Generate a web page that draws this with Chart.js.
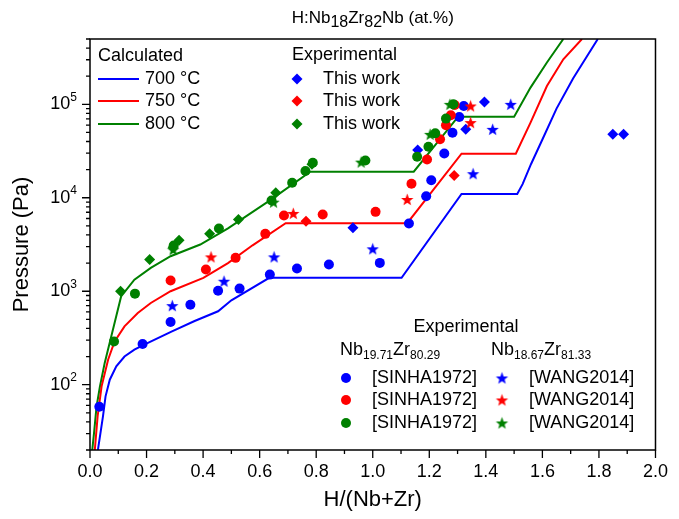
<!DOCTYPE html>
<html>
<head>
<meta charset="utf-8">
<script src="https://cdn.jsdelivr.net/npm/chart.js@4.4.1/dist/chart.umd.min.js"></script>
<style>
  html, body { margin: 0; padding: 0; background: #fff; }
  #wrap { width: 679px; height: 519px; }
</style>
</head>
<body>
<div id="wrap"><canvas id="chart" width="679" height="519"></canvas></div>
<script>
// ---- calculated isotherms, [H/(Nb+Zr), pressure Pa]
const calc700 = [[0.028, 20], [0.046, 46], [0.055, 75], [0.07, 113], [0.093, 157], [0.122, 200],
  [0.157, 237], [0.192, 268], [0.29, 372], [0.37, 480], [0.453, 610], [0.5, 800], [0.634, 1390],
  [1.102, 1390], [1.314, 11000], [1.511, 11000], [1.53, 14000], [1.56, 23000], [1.6, 42000],
  [1.65, 90000], [1.709, 190000], [1.75, 300000], [1.796, 500000]];
const calc750 = [[0.017, 20], [0.027, 46], [0.041, 96], [0.064, 185], [0.087, 291], [0.122, 421],
  [0.169, 585], [0.215, 748], [0.285, 1000], [0.401, 1390], [0.488, 2000], [0.575, 3100],
  [0.692, 5350], [1.122, 5350], [1.314, 29600], [1.506, 29600], [1.558, 63700], [1.616, 157000],
  [1.674, 303000], [1.74, 500000]];
const calc800 = [[0.008, 20], [0.015, 32], [0.023, 58], [0.035, 95], [0.052, 171], [0.081, 387],
  [0.11, 880], [0.157, 1330], [0.215, 1775], [0.285, 2370], [0.39, 3160], [0.488, 4700],
  [0.639, 9500], [0.779, 19000], [1.145, 19000], [1.302, 73800], [1.5, 73800], [1.558, 151000],
  [1.616, 280000], [1.674, 500000]];

// ---- experimental, this work (diamonds)
const work700 = [[0.93, 4770], [1.159, 32400], [1.329, 54000], [1.395, 106000], [1.849, 47700], [1.887, 47700]];
const work750 = [[0.764, 5620], [1.288, 17300]];
const work800 = [[0.108, 1000], [0.211, 2180], [0.294, 2950], [0.315, 3510], [0.423, 4120],
  [0.525, 5850], [0.657, 11300], [0.785, 22800]];

// ---- SINHA1972, Nb19.71Zr80.29 (circles)
const sinha700 = [[0.033, 58], [0.186, 272], [0.285, 469], [0.355, 718], [0.453, 1014], [0.529, 1067],
  [0.636, 1506], [0.732, 1750], [0.845, 1930], [1.025, 2010], [1.128, 5300], [1.189, 10400],
  [1.207, 15400], [1.253, 29800], [1.282, 49700], [1.306, 73100], [1.322, 96000]];
const sinha750 = [[0.285, 1300], [0.41, 1706], [0.515, 2275], [0.62, 4110], [0.686, 6460], [0.823, 6630],
  [1.01, 7070], [1.137, 14100], [1.192, 25700], [1.238, 42200], [1.259, 59600], [1.276, 76300], [1.29, 98400]];
const sinha800 = [[0.085, 290], [0.159, 942], [0.296, 3080], [0.456, 4690], [0.642, 9360], [0.715, 14500],
  [0.762, 19300], [0.788, 23700], [0.974, 25100], [1.157, 27500], [1.197, 35200], [1.221, 48900],
  [1.259, 70300], [1.285, 100000]];

// ---- WANG2014, Nb18.67Zr81.33 (stars)
const wang700 = [[0.291, 701], [0.474, 1280], [0.651, 2330], [1.0, 2840], [1.355, 18100], [1.424, 54000], [1.488, 100000]];
const wang750 = [[0.428, 2330], [0.719, 6800], [1.122, 9590], [1.346, 63700], [1.346, 96000]];
const wang800 = [[0.294, 2790], [0.649, 8980], [0.959, 24100], [1.203, 47700], [1.273, 100000]];

// ---- axes
const X_MIN = 0, X_MAX = 2;
const Y_MIN = 20, Y_MAX = 500000;
const yTickValues = [100, 1000, 10000, 100000];

const FONT = "'Liberation Sans', Arial, sans-serif";
const BLUE = '#0000ff', RED = '#ff0000', GREEN = '#008000';

function starImage(color, r) {
  const s = Math.ceil(r * 2) + 2;
  const c = document.createElement('canvas');
  c.width = s; c.height = s;
  const g = c.getContext('2d');
  g.fillStyle = color;
  g.beginPath();
  for (let i = 0; i < 10; i++) {
    const rad = i % 2 === 0 ? r : r * 0.42;
    const ang = -Math.PI / 2 + i * Math.PI / 5;
    g.lineTo(s / 2 + rad * Math.cos(ang), s / 2 + 0.6 + rad * Math.sin(ang));
  }
  g.closePath();
  g.fill();
  return c;
}
const stars = { b: starImage(BLUE, 6.5), r: starImage(RED, 6.5), g: starImage(GREEN, 6.5) };

function curve(data, color) {
  return { type: 'line', data, borderColor: color, borderWidth: 2, pointRadius: 0,
    fill: false, tension: 0, order: 50 };
}
function marks(data, color, style, radius, order) {
  return { type: 'scatter', data, pointStyle: style, pointRadius: radius,
    backgroundColor: color, borderColor: color, borderWidth: 0, order };
}

// draw a run of text pieces: [text, size, dy]
function richText(ctx, x, y, parts, align) {
  let w = 0;
  parts.forEach(p => { ctx.font = p[1] + 'px ' + FONT; w += ctx.measureText(p[0]).width; });
  let cx = align === 'center' ? x - w / 2 : align === 'right' ? x - w : x;
  ctx.textAlign = 'left';
  ctx.textBaseline = 'middle';
  parts.forEach(p => {
    ctx.font = p[1] + 'px ' + FONT;
    ctx.fillText(p[0], cx, y + (p[2] || 0));
    cx += ctx.measureText(p[0]).width;
  });
}

function diamond(ctx, x, y, r, color) {
  ctx.fillStyle = color;
  ctx.beginPath();
  ctx.moveTo(x, y - r); ctx.lineTo(x + r, y); ctx.lineTo(x, y + r); ctx.lineTo(x - r, y);
  ctx.closePath(); ctx.fill();
}

const decor = {
  id: 'decor',
  afterDraw(chart) {
    const { ctx, chartArea: a, scales: { x, y } } = chart;
    ctx.save();
    // frame
    ctx.strokeStyle = '#000';
    ctx.lineWidth = 1.5;
    ctx.strokeRect(a.left, a.top, a.right - a.left, a.bottom - a.top);
    // tick marks
    ctx.lineWidth = 1.3;
    ctx.beginPath();
    for (let i = 0; i <= 20; i++) {
      const px = x.getPixelForValue(i / 10);
      ctx.moveTo(px, a.bottom); ctx.lineTo(px, a.bottom + (i % 2 ? 4 : 8));
    }
    for (let e = 1; e <= 5; e++) {
      for (let m = 1; m <= 9; m++) {
        const v = m * Math.pow(10, e);
        if (v < Y_MIN || v > Y_MAX) continue;
        const py = y.getPixelForValue(v);
        ctx.moveTo(a.left, py); ctx.lineTo(a.left - (m === 1 ? 8 : 4), py);
      }
    }
    ctx.stroke();

    ctx.fillStyle = '#000';
    // y tick labels 10^n
    yTickValues.forEach(v => {
      const py = y.getPixelForValue(v);
      const exp = String(Math.round(Math.log10(v)));
      richText(ctx, a.left - 13, py, [['10', 18, 0], [exp, 12, -7]], 'right');
    });

    // y title
    ctx.save();
    ctx.translate(22, (a.top + a.bottom) / 2);
    ctx.rotate(-Math.PI / 2);
    ctx.fillStyle = '#000';
    richText(ctx, 0, 0, [['Pressure (Pa)', 22, 0]], 'center');
    ctx.restore();

    // title
    ctx.fillStyle = '#000';
    richText(ctx, (a.left + a.right) / 2, 18,
      [['H:Nb', 17, 0], ['18', 16, 5], ['Zr', 17, 0], ['82', 16, 5], ['Nb (at.%)', 17, 0]], 'center');

    // legend: calculated
    const rows = [79, 101, 124];
    const cols = [BLUE, RED, GREEN];
    const temps = ['700 °C', '750 °C', '800 °C'];
    ctx.fillStyle = '#000';
    richText(ctx, 98, 56, [['Calculated', 18, 0]], 'left');
    rows.forEach((ry, i) => {
      ctx.strokeStyle = cols[i]; ctx.lineWidth = 2;
      ctx.beginPath(); ctx.moveTo(98, ry); ctx.lineTo(139, ry); ctx.stroke();
      ctx.fillStyle = '#000';
      richText(ctx, 145, ry, [[temps[i], 18, 0]], 'left');
    });
    // legend: this work
    richText(ctx, 292, 55, [['Experimental', 18, 0]], 'left');
    rows.forEach((ry, i) => {
      diamond(ctx, 297, ry, 5.5, cols[i]);
      ctx.fillStyle = '#000';
      richText(ctx, 323, ry, [['This work', 18, 0]], 'left');
    });

    // legend: literature
    ctx.fillStyle = '#000';
    richText(ctx, 466, 327, [['Experimental', 18, 0]], 'center');
    richText(ctx, 340, 350, [['Nb', 18, 0], ['19.71', 12, 6], ['Zr', 18, 0], ['80.29', 12, 6]], 'left');
    richText(ctx, 491, 350, [['Nb', 18, 0], ['18.67', 12, 6], ['Zr', 18, 0], ['81.33', 12, 6]], 'left');
    const rows2 = [378, 400, 423];
    const starList = [stars.b, stars.r, stars.g];
    rows2.forEach((ry, i) => {
      ctx.fillStyle = cols[i];
      ctx.beginPath(); ctx.arc(346, ry, 5, 0, Math.PI * 2); ctx.fill();
      const st = starList[i];
      ctx.drawImage(st, 502 - st.width / 2, ry - st.height / 2);
      ctx.fillStyle = '#000';
      richText(ctx, 372, ry, [['[SINHA1972]', 18, 0]], 'left');
      richText(ctx, 529, ry, [['[WANG2014]', 18, 0]], 'left');
    });
    ctx.restore();
  }
};

new Chart(document.getElementById('chart'), {
  data: {
    datasets: [
      curve(calc700, BLUE), curve(calc750, RED), curve(calc800, GREEN),
      marks(work700, BLUE, 'rectRot', 5.5, 33), marks(work750, RED, 'rectRot', 5.5, 32), marks(work800, GREEN, 'rectRot', 5.5, 31),
      marks(sinha700, BLUE, 'circle', 5, 23), marks(sinha750, RED, 'circle', 5, 22), marks(sinha800, GREEN, 'circle', 5, 21),
      marks(wang700, BLUE, stars.b, 6, 13), marks(wang750, RED, stars.r, 6, 12), marks(wang800, GREEN, stars.g, 6, 11)
    ]
  },
  options: {
    responsive: false,
    animation: false,
    devicePixelRatio: 1,
    layout: { padding: { left: 0, top: 39, right: 16, bottom: 0 } },
    plugins: { legend: { display: false }, tooltip: { enabled: false } },
    scales: {
      x: {
        type: 'linear', min: X_MIN, max: X_MAX,
        grid: { display: false, drawTicks: false },
        border: { display: false },
        ticks: { stepSize: 0.2, autoSkip: false, maxRotation: 0, padding: 11, color: '#000',
          font: { family: FONT, size: 18 }, callback: v => v.toFixed(1) },
        title: { display: true, text: 'H/(Nb+Zr)', color: '#000', font: { family: FONT, size: 22 },
          padding: { top: 0, bottom: 6 } },
        afterFit: s => { s.height = 69; }
      },
      y: {
        type: 'logarithmic', min: Y_MIN, max: Y_MAX, bounds: 'data',
        grid: { display: false, drawTicks: false },
        border: { display: false },
        ticks: { display: false },
        afterFit: s => { s.width = 90; }
      }
    }
  },
  plugins: [decor]
});
</script>
</body>
</html>
